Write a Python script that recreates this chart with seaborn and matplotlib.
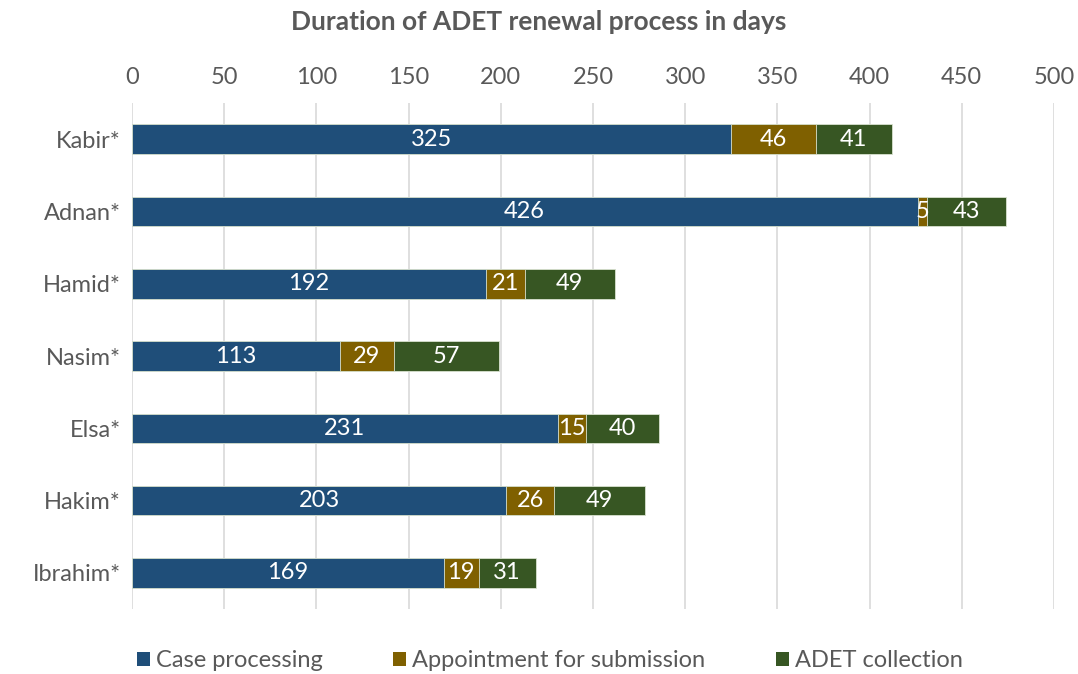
import matplotlib
matplotlib.use("Agg")
import matplotlib.pyplot as plt
import seaborn as sns
import pandas as pd
import numpy as np
from matplotlib.patches import Patch

names = ["Kabir*", "Adnan*", "Hamid*", "Nasim*", "Elsa*", "Hakim*", "Ibrahim*"]
case_processing = [325, 426, 192, 113, 231, 203, 169]
appointment = [46, 5, 21, 29, 15, 26, 19]
collection = [41, 43, 49, 57, 40, 49, 31]
series_names = ["Case processing", "Appointment for submission", "ADET collection"]
colors = ["#1F4E79", "#7F6000", "#375623"]
xticks = [0, 50, 100, 150, 200, 250, 300, 350, 400, 450, 500]

sns.set_theme(style="white")
plt.rcParams['font.family'] = ['Lato', 'DejaVu Sans']

c = np.array(case_processing)
a = np.array(appointment)
g = np.array(collection)
df = pd.DataFrame({"name": names, "c": c, "ca": c + a, "cag": c + a + g})

fig = plt.figure(figsize=(10.78, 6.74), dpi=100)
ax = fig.add_axes([0.1224, 0.0964, 0.8553, 0.7506])

for col, color in zip(["cag", "ca", "c"], colors[::-1]):
    sns.barplot(data=df, x=col, y="name", color=color, orient="h", width=0.41,
                saturation=1, edgecolor="#D9E2D0", linewidth=0.6, ax=ax, zorder=3)

gray = "#595959"
for i in range(len(names)):
    starts = [0, c[i], c[i] + a[i]]
    vals = [c[i], a[i], g[i]]
    for s, v in zip(starts, vals):
        ax.text(s + v / 2, i, str(v), ha="center", va="center", color="white",
                fontsize=17, zorder=5)

ax.set_xlim(0, 500)
ax.set_ylim(6.5, -0.5)
ax.set_xticks(xticks)
ax.xaxis.tick_top()
ax.tick_params(axis="x", length=0, labelsize=17, labelcolor=gray, pad=11)
ax.tick_params(axis="y", length=0, labelsize=17, labelcolor=gray, pad=8)
ax.set_xlabel("")
ax.set_ylabel("")
ax.grid(axis="x", color="#D9D9D9", linewidth=1.2, zorder=0)
ax.set_axisbelow(True)
for sp in ax.spines.values():
    sp.set_visible(False)

fig.suptitle("Duration of ADET renewal process in days", y=0.985, fontsize=19,
             fontweight="bold", color=gray)

handles = [Patch(facecolor=col, edgecolor="none") for col in colors]
fig.legend(handles, series_names, loc="center", bbox_to_anchor=(0.51, 0.02),
           ncol=3, frameon=False, fontsize=17, labelcolor=gray,
           handlelength=0.55, handleheight=0.55, handletextpad=0.25, columnspacing=3.0)

fig.savefig("out.png", dpi=100)
